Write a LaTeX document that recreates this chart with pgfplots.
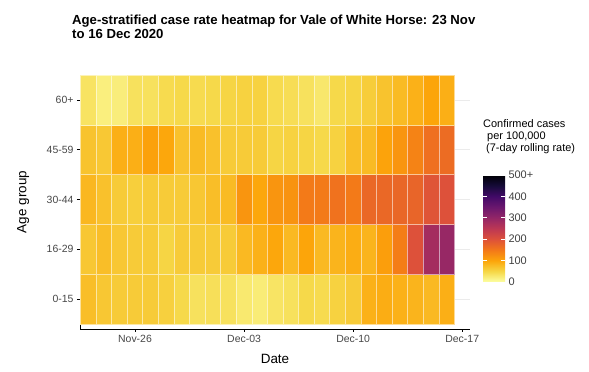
\documentclass[border=0pt]{standalone}
\usepackage{pgfplots}
\pgfplotsset{compat=1.18}
\usepackage{fontspec}
\setmainfont{Liberation Sans}
\begin{document}
\begin{tikzpicture}
\path[use as bounding box] (0bp,0bp) rectangle (589bp,372bp);
\node[anchor=base west, font=\bfseries\fontsize{13.2}{15}\selectfont, inner sep=0pt] at (72bp,347bp) {Age-stratified case rate heatmap for Vale of White Horse: 23 Nov};
\node[anchor=base west, font=\bfseries\fontsize{13.2}{15}\selectfont, inner sep=0pt] at (72bp,333bp) {to 16 Dec 2020};
\begin{axis}[
  at={(80bp,43bp)}, anchor=south west, scale only axis,
  width=390bp, height=254bp,
  xmin=-0.53, xmax=24.5, ymin=-0.6, ymax=4.5,
  axis x line*=bottom, axis y line*=left,
  axis line style={black, line width=0.8pt, -},
  xtick={3,10,17,24}, xticklabels={Nov-26,Dec-03,Dec-10,Dec-17},
  ytick={0,...,4}, yticklabels={0-15,16-29,30-44,45-59,60+},
  tick align=outside, major tick length=3bp,
  tick style={black, line width=0.6pt},
  ticklabel style={font=\fontsize{10.5}{12}\selectfont, text=black!72},
  ymajorgrids, major grid style={black!8, line width=0.6pt},
  xlabel={Date}, ylabel={Age group},
  label style={font=\fontsize{13.5}{15}\selectfont},
  xlabel style={at={(axis description cs:0.5,-0.134)}, anchor=base},
  ylabel style={at={(axis description cs:-0.146,0.5)}, anchor=center},
  colormap={infr}{rgb255=(252,255,164) rgb255=(246,215,70) rgb255=(252,165,10)
    rgb255=(243,120,25) rgb255=(221,81,58) rgb255=(188,55,84) rgb255=(147,38,103)
    rgb255=(106,23,110) rgb255=(66,10,104) rgb255=(22,11,57) rgb255=(0,0,4)},
  point meta min=0, point meta max=500,
  colorbar shift/.style={xshift=0pt},
  colorbar/width=22bp,
  colorbar,
  colorbar style={
    at={(parent axis.south east)}, anchor=south west, xshift=13bp, yshift=47bp,
    scale only axis, width=22bp, height=107bp,
    ytick={0,100,...,500}, yticklabels={0,100,200,300,400,500+},
    major tick length=4bp, tick align=inside, ytick pos=both, yticklabel pos=right,
    tick style={white, line width=0.8pt},
    axis line style={draw=none},
    yticklabel style={font=\fontsize{11}{12}\selectfont, text=black!75},
  },
]
\addplot[scatter, only marks, mark=square*, mark size=7.79bp,
  mark options={yscale=3.197}, point meta=explicit, line width=0.6pt,
  scatter/use mapped color={draw=mapped color!45!white, fill=mapped color}] coordinates {
(0,0)[75] (1,0)[66] (2,0)[62] (3,0)[62] (4,0)[62] (5,0)[57] (6,0)[48] (7,0)[38] (8,0)[40] (9,0)[38] (10,0)[28] (11,0)[24] (12,0)[34] (13,0)[38] (14,0)[48] (15,0)[45] (16,0)[55] (17,0)[62] (18,0)[88] (19,0)[92] (20,0)[88] (21,0)[85] (22,0)[80] (23,0)[90]
(0,1)[66] (1,1)[75] (2,1)[66] (3,1)[62] (4,1)[62] (5,1)[52] (6,1)[62] (7,1)[62] (8,1)[62] (9,1)[62] (10,1)[80] (11,1)[88] (12,1)[98] (13,1)[80] (14,1)[100] (15,1)[80] (16,1)[85] (17,1)[92] (18,1)[85] (19,1)[108] (20,1)[145] (21,1)[200] (22,1)[280] (23,1)[295]
(0,2)[82] (1,2)[72] (2,2)[62] (3,2)[58] (4,2)[62] (5,2)[62] (6,2)[62] (7,2)[66] (8,2)[75] (9,2)[78] (10,2)[118] (11,2)[98] (12,2)[118] (13,2)[120] (14,2)[148] (15,2)[148] (16,2)[158] (17,2)[148] (18,2)[170] (19,2)[170] (20,2)[172] (21,2)[175] (22,2)[195] (23,2)[200]
(0,3)[70] (1,3)[65] (2,3)[90] (3,3)[90] (4,3)[105] (5,3)[98] (6,3)[72] (7,3)[78] (8,3)[72] (9,3)[62] (10,3)[62] (11,3)[62] (12,3)[52] (13,3)[55] (14,3)[52] (15,3)[48] (16,3)[55] (17,3)[75] (18,3)[78] (19,3)[102] (20,3)[118] (21,3)[138] (22,3)[160] (23,3)[165]
(0,4)[35] (1,4)[20] (2,4)[22] (3,4)[38] (4,4)[38] (5,4)[45] (6,4)[48] (7,4)[45] (8,4)[48] (9,4)[52] (10,4)[55] (11,4)[55] (12,4)[45] (13,4)[42] (14,4)[38] (15,4)[30] (16,4)[48] (17,4)[52] (18,4)[60] (19,4)[70] (20,4)[78] (21,4)[88] (22,4)[100] (23,4)[90]
};
\end{axis}
\node[anchor=base west, font=\fontsize{11}{12}\selectfont, inner sep=0pt] at (483bp,244bp) {Confirmed cases};
\node[anchor=base west, font=\fontsize{11}{12}\selectfont, inner sep=0pt] at (487bp,232bp) {per 100,000};
\node[anchor=base west, font=\fontsize{11}{12}\selectfont, inner sep=0pt] at (486bp,220bp) {(7-day rolling rate)};
\end{tikzpicture}
\end{document}
